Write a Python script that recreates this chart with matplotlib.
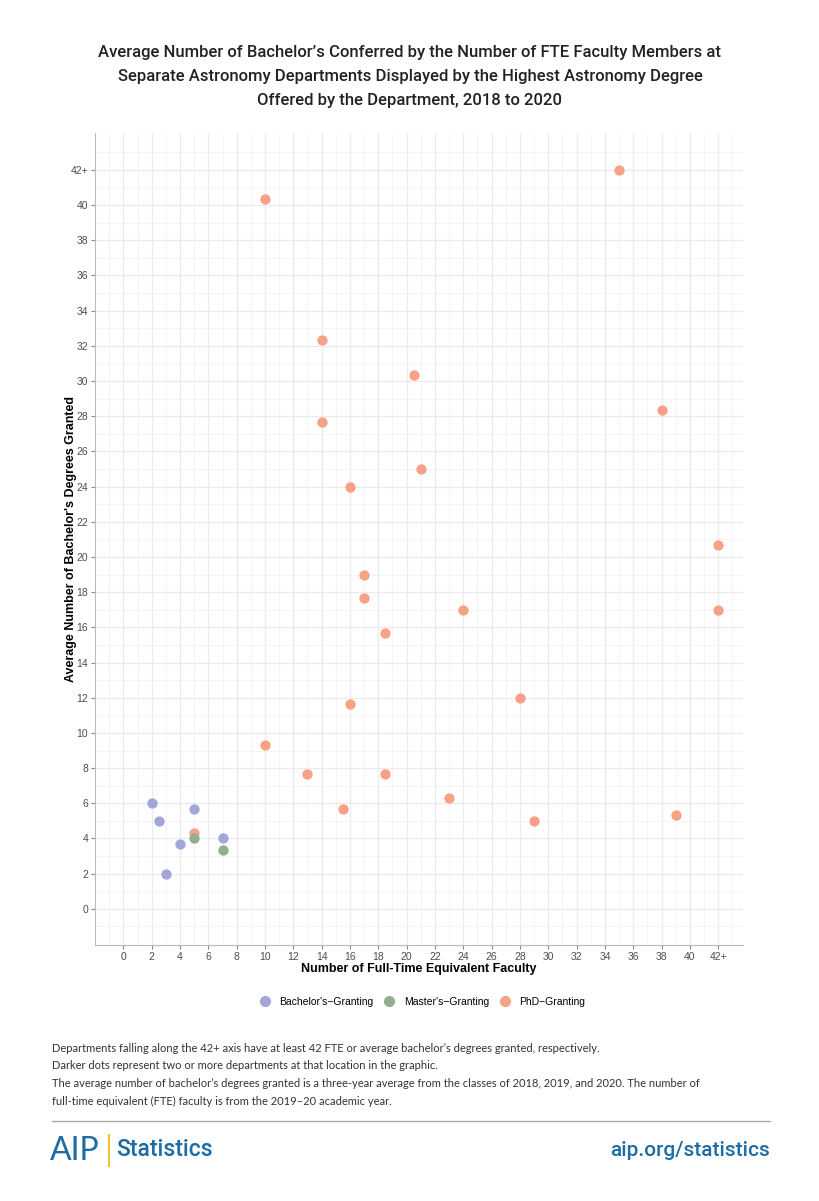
import matplotlib.pyplot as plt
from matplotlib.lines import Line2D
import numpy as np

# data
bach_fte = [2, 2.5, 5, 4, 7, 3]
bach_deg = [6, 5, 5.67, 3.67, 4, 2]

mast_fte = [5, 7]
mast_deg = [4, 3.33]

phd_fte = [35, 10, 14, 20.5, 38, 14, 21, 16, 42, 17, 17, 24, 42, 18.5, 28, 16, 10, 13, 18.5, 23, 15.5, 29, 39, 5]
phd_deg = [42, 40.33, 32.33, 30.33, 28.33, 27.67, 25, 24, 20.67, 19, 17.67, 17, 17, 15.67, 12, 11.67, 9.33, 7.67, 7.67, 6.33, 5.67, 5, 5.33, 4.33]

ticks = list(range(0, 43, 2))
tick_labels = [str(t) for t in ticks[:-1]] + ["42+"]

c_bach = "#a3a6d8"
c_mast = "#93ad8d"
c_phd = "#f6a285"

plt.rcParams['font.family'] = ['Liberation Sans', 'DejaVu Sans']

fig = plt.figure(figsize=(8.2, 12.01), dpi=100)
ax = fig.add_axes([0.1159, 0.2132, 0.7902, 0.6761])

ax.scatter(phd_fte, phd_deg, s=55, color=c_phd, zorder=3, linewidths=0)
ax.scatter(bach_fte, bach_deg, s=55, color=c_bach, zorder=3, linewidths=0)
ax.scatter(mast_fte, mast_deg, s=55, color=c_mast, zorder=3, linewidths=0)

ax.set_xlim(-2, 43.75)
ax.set_ylim(-2.05, 44.1)
ax.set_xticks(ticks)
ax.set_xticklabels(tick_labels)
ax.set_yticks(ticks)
ax.set_yticklabels(tick_labels)
ax.set_xticks(np.arange(-1, 44, 1), minor=True)
ax.set_yticks(np.arange(-1, 44, 1), minor=True)
ax.grid(which="major", color="#ebebeb", lw=1.0, zorder=0)
ax.grid(which="minor", color="#f3f3f3", lw=0.6, zorder=0)
ax.tick_params(which="minor", length=0)
ax.tick_params(which="major", length=3, color="#888888", labelcolor="#4d4d4d", labelsize=7.5, pad=2)
for s in ["top", "right"]:
    ax.spines[s].set_visible(False)
for s in ["left", "bottom"]:
    ax.spines[s].set_color("#bbbbbb")
ax.set_axisbelow(True)

ax.set_xlabel("Number of Full-Time Equivalent Faculty", fontsize=9, fontweight="bold", labelpad=1)
ax.set_ylabel("Average Number of Bachelor's Degrees Granted", fontsize=9, fontweight="bold", labelpad=-5)

handles = [
    Line2D([], [], marker="o", ls="", color=c_bach, markersize=7, label="Bachelor's\u2212Granting"),
    Line2D([], [], marker="o", ls="", color=c_mast, markersize=7, label="Master's\u2212Granting"),
    Line2D([], [], marker="o", ls="", color=c_phd, markersize=7, label="PhD\u2212Granting"),
]
fig.legend(handles=handles, loc="center", bbox_to_anchor=(0.512, 1 - 1002 / 1201), ncol=3,
           frameon=False, fontsize=7.5, handletextpad=0.4, columnspacing=0.5)

title = ("Average Number of Bachelor\u2019s Conferred by the Number of FTE Faculty Members at\n"
         "Separate Astronomy Departments Displayed by the Highest Astronomy Degree\n"
         "Offered by the Department, 2018 to 2020")
fig.text(0.5, 1 - 76 / 1201, title, ha="center", va="center", fontsize=12,
         family=["Roboto", "DejaVu Sans"], fontweight="medium", color="#222222",
         linespacing=1.75)

notes = [
    "Departments falling along the 42+ axis have at least 42 FTE or average bachelor\u2019s degrees granted, respectively.",
    "Darker dots represent two or more departments at that location in the graphic.",
    "The average number of bachelor\u2019s degrees granted is a three-year average from the classes of 2018, 2019, and 2020. The number of",
    "full-time equivalent (FTE) faculty is from the 2019\u201320 academic year.",
]
for i, n in enumerate(notes):
    fig.text(52 / 820, 1 - (1048 + i * 17.8) / 1201, n, ha="left", va="center", fontsize=8,
             family=["Lato", "DejaVu Sans"], color="#333333")

fig.add_artist(Line2D([52 / 820, 770 / 820], [1 - 1121 / 1201, 1 - 1121 / 1201], color="#aaaaaa", lw=1))

blue = "#1d6ca4"
fig.text(50 / 820, 1 - 1151 / 1201, "AIP", ha="left", va="center", fontsize=23, color=blue,
         family=["Lato", "DejaVu Sans"])
fig.add_artist(Line2D([109 / 820, 109 / 820], [1 - 1135 / 1201, 1 - 1166 / 1201], color="#f2c230", lw=1.5))
fig.text(116 / 820, 1 - 1150 / 1201, "Statistics", ha="left", va="center", fontsize=16.5, color=blue,
         family=["Roboto", "DejaVu Sans"], fontweight="medium")
fig.text(770 / 820, 1 - 1150 / 1201, "aip.org/statistics", ha="right", va="center", fontsize=15, color=blue,
         family=["Roboto", "DejaVu Sans"], fontweight="medium")

fig.savefig("out.png", dpi=100, facecolor="white")
